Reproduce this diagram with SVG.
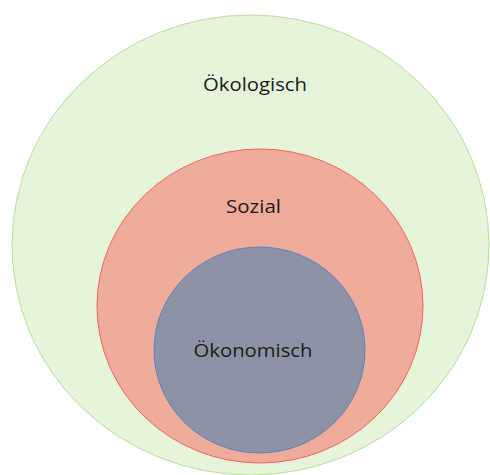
<svg xmlns="http://www.w3.org/2000/svg" width="490" height="475" viewBox="0 0 490 475">
<style>
text{font-family:"Open Sans","Noto Sans","Liberation Sans",sans-serif;font-size:19px;fill:#1a1a1a;text-anchor:middle}
</style>
<rect width="490" height="475" fill="#ffffff"/>
<g id="oekologisch">
<ellipse cx="250.5" cy="245" rx="238.5" ry="230" fill="#E6F4DA" stroke="#B9DF9B" stroke-width="1"/>
<text x="255" y="91" textLength="104" lengthAdjust="spacingAndGlyphs">Ökologisch</text>
</g>
<g id="sozial">
<ellipse cx="260" cy="306" rx="163" ry="157" fill="#F0AC9A" stroke="#F26060" stroke-width="1"/>
<text x="253.5" y="213" textLength="55" lengthAdjust="spacingAndGlyphs">Sozial</text>
</g>
<g id="oekonomisch">
<ellipse cx="259.5" cy="350" rx="105.5" ry="103" fill="#8E92A7" stroke="#5B83BE" stroke-width="1"/>
<text x="253" y="357" textLength="119" lengthAdjust="spacingAndGlyphs">Ökonomisch</text>
</g>
<g id="connectors"/>
</svg>
